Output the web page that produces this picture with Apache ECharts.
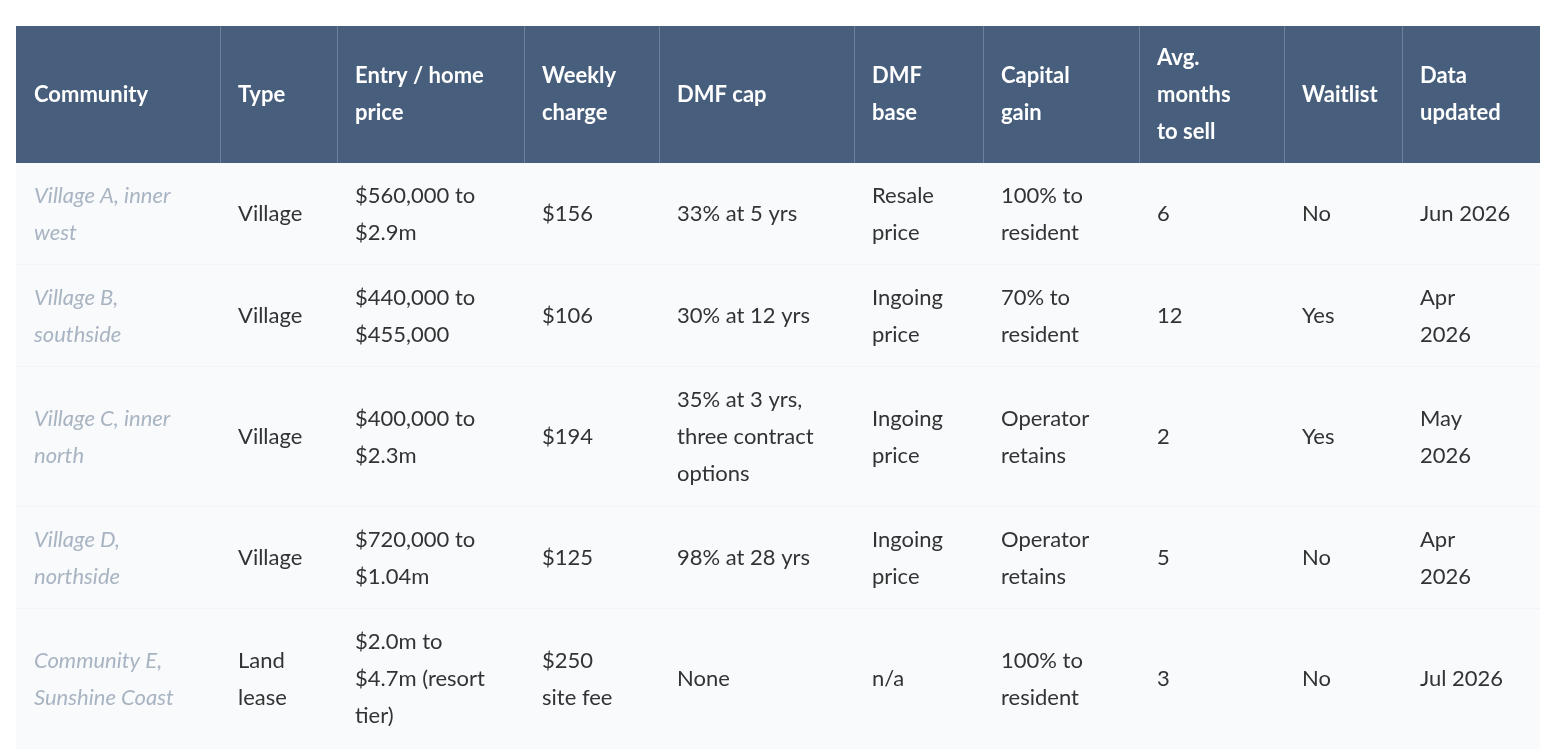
<!DOCTYPE html>
<html lang="en">
<head>
<meta charset="UTF-8">
<title>Communities</title>
<script src="https://cdn.jsdelivr.net/npm/echarts@6/dist/echarts.min.js"></script>
<style>html,body{margin:0;background:#fff}</style>
</head>
<body>
<div id="main" style="width:1555px;height:749px;"></div>
<script>
  // column headers and their right edges
  let headers = ['Community', 'Type', 'Entry / home\nprice', 'Weekly\ncharge', 'DMF cap', 'DMF\nbase', 'Capital\ngain', 'Avg.\nmonths\nto sell', 'Waitlist', 'Data\nupdated']
  let colEdges = [16, 220, 337, 524, 659, 854, 983, 1139, 1284, 1402, 1540]
  let rowEdges = [26, 163, 265, 367, 507, 609, 749]

  let community = ['Village A, inner\nwest', 'Village B,\nsouthside', 'Village C, inner\nnorth', 'Village D,\nnorthside', 'Community E,\nSunshine Coast']
  let type = ['Village', 'Village', 'Village', 'Village', 'Land\nlease']
  let price = ['$560,000 to\n$2.9m', '$440,000 to\n$455,000', '$400,000 to\n$2.3m', '$720,000 to\n$1.04m', '$2.0m to\n$4.7m (resort\ntier)']
  let weekly = ['$156', '$106', '$194', '$125', '$250\nsite fee']
  let dmfCap = ['33% at 5 yrs', '30% at 12 yrs', '35% at 3 yrs,\nthree contract\noptions', '98% at 28 yrs', 'None']
  let dmfBase = ['Resale\nprice', 'Ingoing\nprice', 'Ingoing\nprice', 'Ingoing\nprice', 'n/a']
  let capGain = ['100% to\nresident', '70% to\nresident', 'Operator\nretains', 'Operator\nretains', '100% to\nresident']
  let months = ['6', '12', '2', '5', '3']
  let waitlist = ['No', 'Yes', 'Yes', 'No', 'No']
  let updated = ['Jun 2026', 'Apr\n2026', 'May\n2026', 'Apr\n2026', 'Jul 2026']

  let columns = [community, type, price, weekly, dmfCap, dmfBase, capGain, months, waitlist, updated]
  let font = 'Lato, "Noto Sans", sans-serif'
  let els = []

  // header
  els.push({type: 'rect', shape: {x: colEdges[0], y: rowEdges[0], width: colEdges[10] - colEdges[0], height: rowEdges[1] - rowEdges[0]}, style: {fill: '#475f7d'}})
  headers.forEach((h, c) => {
    if (c > 0) els.push({type: 'line', shape: {x1: colEdges[c] + 0.5, y1: rowEdges[0], x2: colEdges[c] + 0.5, y2: rowEdges[1]}, style: {stroke: '#6d819a', lineWidth: 1}})
    els.push({type: 'text', x: colEdges[c] + 18, y: (rowEdges[0] + rowEdges[1]) / 2,
      style: {text: h, fill: '#fff', font: 'bold 22px ' + font, lineHeight: 37, verticalAlign: 'middle'}})
  })

  // body rows
  for (let r = 0; r < 5; r++) {
    let y0 = rowEdges[r + 1], y1 = rowEdges[r + 2]
    els.push({type: 'rect', shape: {x: colEdges[0], y: y0, width: colEdges[10] - colEdges[0], height: y1 - y0}, style: {fill: '#f8fafc'}})
    if (r < 4) els.push({type: 'line', shape: {x1: colEdges[0], y1: y1 + 0.5, x2: colEdges[10], y2: y1 + 0.5}, style: {stroke: '#dfe4ea', lineWidth: 1.5}})
    columns.forEach((col, c) => {
      els.push({type: 'text', x: colEdges[c] + 18, y: (y0 + y1) / 2,
        style: {text: col[r], fill: c === 0 ? '#a9b4c2' : '#333',
          font: (c === 0 ? 'italic ' : '') + '22px ' + font, lineHeight: 37, verticalAlign: 'middle'}})
    })
  }

  let myChart = echarts.init(document.getElementById('main'))
  myChart.setOption({graphic: els})
</script>
</body>
</html>
